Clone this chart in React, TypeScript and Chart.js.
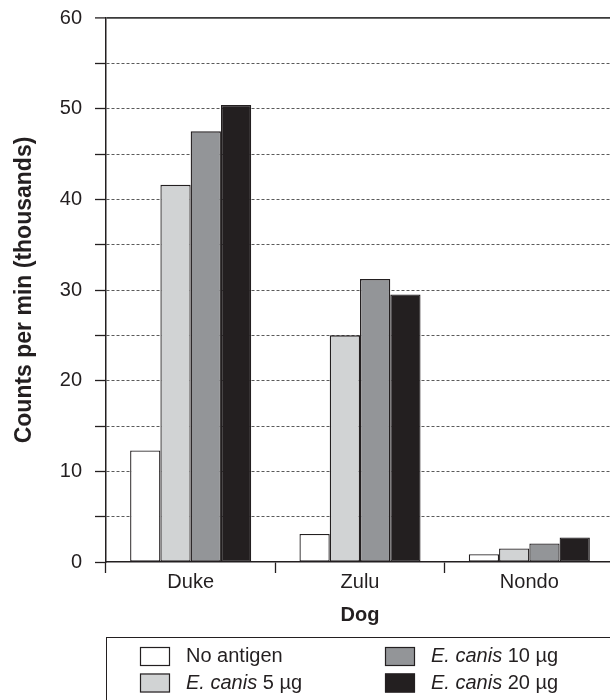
import { useEffect, useRef } from "react";
import { Chart, registerables } from "chart.js";

Chart.register(...registerables);

// Lymphocyte proliferation per dog, counts per minute in thousands
const dogs = ["Duke", "Zulu", "Nondo"];
const noAntigen = [12.3, 3.1, 0.85];
const canis5 = [41.6, 25.0, 1.5];
const canis10 = [47.5, 31.2, 2.05];
const canis20 = [50.4, 29.5, 2.7];

// Legend labels: italic species name followed by the dose
const legendItalic = ["", "E. canis", "E. canis", "E. canis"];
const legendPlain = ["No antigen", " 5 µg", " 10 µg", " 20 µg"];
const fillColors = ["#ffffff", "#d1d3d4", "#939598", "#231f20"];

const yMin = 0;
const yMax = 60;
const yStep = 5;

const INK = "#231f20";
const FONT = "'Liberation Sans', Arial, Helvetica, sans-serif";

const boxLegend = {
  id: "boxLegend",
  afterDraw(chart: any) {
    const { ctx, chartArea } = chart;
    const top = chartArea.bottom + 75;
    const left = chartArea.left;
    ctx.save();
    ctx.strokeStyle = INK;
    ctx.lineWidth = 1;
    ctx.strokeRect(Math.round(left) + 0.5, Math.round(top) + 0.5, chart.width, 120);
    const colX = [left + 34, left + 279];
    const rowY = [top + 19.5, top + 46];
    chart.data.datasets.forEach((ds: any, i: number) => {
      const col = Math.floor(i / 2);
      const row = i % 2;
      const sx = colX[col];
      const cy = rowY[row];
      ctx.fillStyle = ds.backgroundColor;
      ctx.fillRect(sx, cy - 9.5, 30, 19);
      ctx.strokeStyle = INK;
      ctx.lineWidth = 1.2;
      ctx.strokeRect(sx + 0.5, cy - 9, 29, 18);
      let tx = sx + 46;
      ctx.fillStyle = INK;
      ctx.textBaseline = "middle";
      ctx.textAlign = "left";
      if (legendItalic[i]) {
        ctx.font = `italic 20px ${FONT}`;
        ctx.fillText(legendItalic[i], tx, cy);
        tx += ctx.measureText(legendItalic[i]).width;
      }
      ctx.font = `20px ${FONT}`;
      ctx.fillText(legendPlain[i], tx, cy);
    });
    ctx.restore();
  },
};

export default function App() {
  const canvasRef = useRef<HTMLCanvasElement | null>(null);

  useEffect(() => {
    const canvas = canvasRef.current;
    if (!canvas) return;
    Chart.defaults.font.family = FONT;
    Chart.defaults.color = INK;

    const series = [noAntigen, canis5, canis10, canis20];
    const chart = new Chart(canvas, {
      type: "bar",
      data: {
        labels: dogs,
        datasets: series.map((values, i) => ({
          label: legendItalic[i] + legendPlain[i],
          data: values,
          backgroundColor: fillColors[i],
          borderColor: INK,
          borderWidth: 1.3,
          borderSkipped: false,
          categoryPercentage: 0.715,
          barPercentage: 1.0,
        })),
      },
      options: {
        responsive: false,
        animation: false,
        devicePixelRatio: 1,
        layout: { padding: { left: 0, right: 26, top: 18, bottom: 63 } },
        plugins: {
          legend: { display: false },
          tooltip: { enabled: false },
        },
        scales: {
          x: {
            ticks: { color: INK, font: { size: 20 }, padding: -3 },
            grid: {
              offset: true,
              drawOnChartArea: false,
              tickLength: 11,
              tickColor: INK,
              tickWidth: 1.3,
              tickBorderDash: [],
            },
            border: { color: INK, width: 1.5 },
            title: {
              display: true,
              text: "Dog",
              color: INK,
              font: { size: 20, weight: "bold" },
              padding: { top: 0, bottom: 10 },
            },
            afterFit: (s: any) => {
              s.height = 75;
              s.paddingLeft = 0;
              s.paddingRight = 0;
            },
          },
          y: {
            min: yMin,
            max: yMax,
            ticks: {
              stepSize: yStep,
              color: INK,
              font: { size: 20 },
              padding: 13,
              callback: (v: any) => (Number(v) % 10 === 0 ? String(v) : ""),
            },
            grid: {
              color: (c: any) =>
                c.tick && c.tick.value === yMin
                  ? "rgba(0,0,0,0)"
                  : c.tick && c.tick.value === yMax
                  ? "#3a3a3a"
                  : "#5a5a5a",
              lineWidth: (c: any) => (c.tick && c.tick.value === yMax ? 1.8 : 1),
              tickLength: 11,
              tickColor: INK,
              tickWidth: 1.3,
              tickBorderDash: [],
            },
            border: {
              color: INK,
              width: 1.5,
              dash: (c: any) => (!c.tick || c.tick.value === yMax ? [] : [3, 2]),
            },
            title: {
              display: true,
              text: "Counts per min (thousands)",
              color: INK,
              font: { size: 23, weight: "bold" },
              padding: { top: 11, bottom: 0 },
            },
            afterFit: (s: any) => {
              s.width = 106;
              s.paddingTop = 0;
              s.paddingBottom = 0;
            },
          },
        },
      } as any,
      plugins: [boxLegend],
    });
    return () => chart.destroy();
  }, []);

  return (
    <div
      style={{
        position: "fixed",
        left: 0,
        top: 0,
        width: 610,
        height: 700,
        overflow: "hidden",
        background: "#ffffff",
      }}
    >
      <canvas ref={canvasRef} width={640} height={700} style={{ display: "block" }} />
    </div>
  );
}
